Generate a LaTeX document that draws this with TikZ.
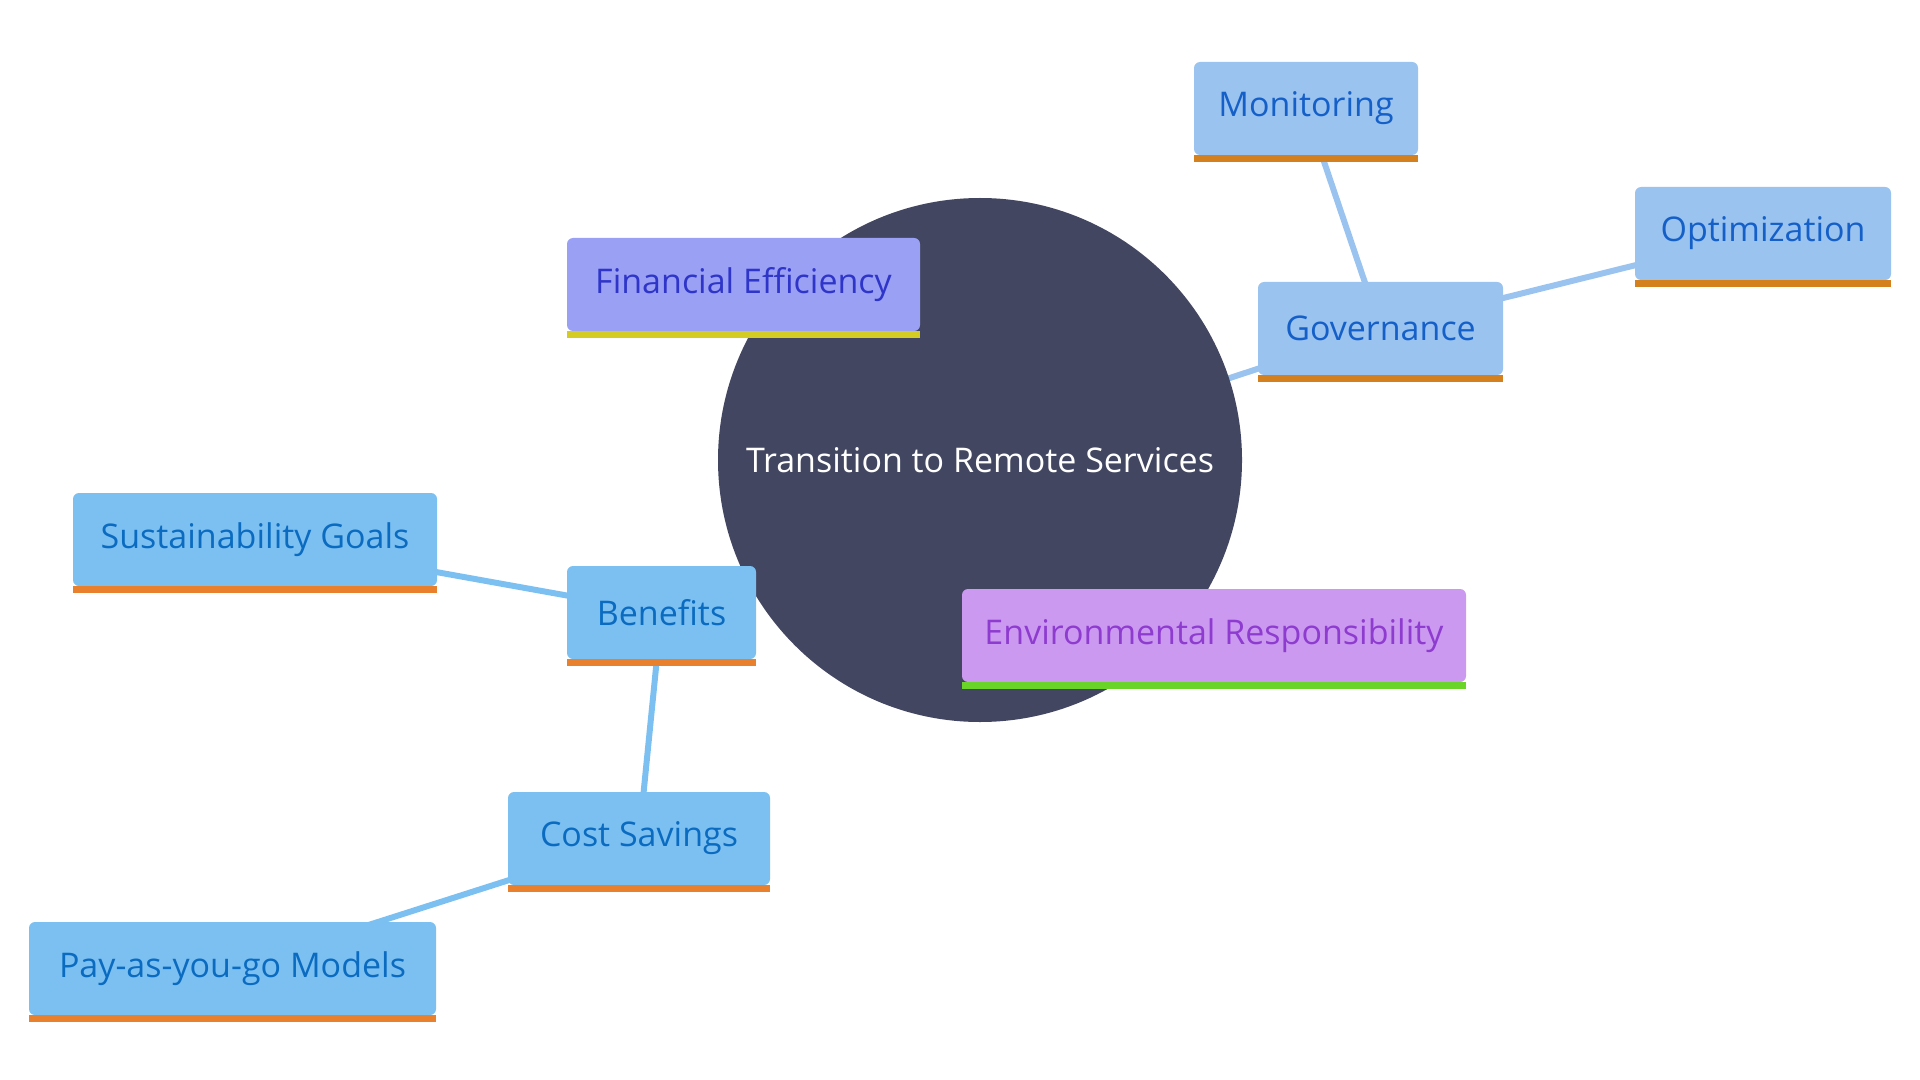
\documentclass[tikz,border=0pt]{standalone}
\usepackage{fontspec}
\setmainfont{Open Sans}
\usetikzlibrary{backgrounds}

\definecolor{rootfill}{HTML}{424660}
\definecolor{finfill}{HTML}{9AA0F4}
\definecolor{fintext}{HTML}{2E35C8}
\definecolor{finbar}{HTML}{D4CC22}
\definecolor{envfill}{HTML}{CC99F0}
\definecolor{envtext}{HTML}{8E3BCF}
\definecolor{envbar}{HTML}{6AD428}
\definecolor{govfill}{HTML}{9AC3EF}
\definecolor{govtext}{HTML}{1560C8}
\definecolor{govbar}{HTML}{D4801F}
\definecolor{benfill}{HTML}{7CC0F2}
\definecolor{bentext}{HTML}{0A6BC0}
\definecolor{benbar}{HTML}{E8802E}

\begin{document}
\begin{tikzpicture}[
    x=0.5pt, y=-0.5pt,
    box/.style={rounded corners=3pt, minimum height=46.5pt, inner xsep=0pt,
                font=\fontsize{17}{20}\selectfont},
    govbox/.style={box, fill=govfill, text=govtext},
    benbox/.style={box, fill=benfill, text=bentext},
    bar/.style={fill=#1},
    link/.style={line width=3pt, draw=#1}
  ]
  \useasboundingbox (0,0) rectangle (1920,1080);

  \node[circle, fill=rootfill, minimum size=262pt, text=white,
        font=\fontsize{17}{20}\selectfont] (root) at (980,460)
        {Transition to Remote Services};

  \node[box, fill=finfill, text=fintext, minimum width=176.5pt] (fin) at (743.5,284.5) {Financial Efficiency};
  \node[box, fill=envfill, text=envtext, minimum width=252pt] (env) at (1214,635.5) {Environmental Responsibility};

  \node[govbox, minimum width=122.5pt] (gov) at (1380.5,328.5) {Governance};
  \node[govbox, minimum width=112pt] (mon) at (1306,108.5) {Monitoring};
  \node[govbox, minimum width=128pt] (opt) at (1763,233.5) {Optimization};

  \node[benbox, minimum width=94.5pt] (ben) at (661.5,612.5) {Benefits};
  \node[benbox, minimum width=182pt] (sus) at (255,539.5) {Sustainability Goals};
  \node[benbox, minimum width=131pt] (cost) at (639,838.5) {Cost Savings};
  \node[benbox, minimum width=203.5pt] (pay) at (232.5,968.5) {Pay-as-you-go Models};

  % coloured strips under the boxes
  \fill[bar=finbar] (fin.south west) rectangle ([yshift=-3.5pt]fin.south east);
  \fill[bar=envbar] (env.south west) rectangle ([yshift=-3.5pt]env.south east);
  \foreach \n in {gov, mon, opt}
    \fill[bar=govbar] (\n.south west) rectangle ([yshift=-3.5pt]\n.south east);
  \foreach \n in {ben, sus, cost, pay}
    \fill[bar=benbar] (\n.south west) rectangle ([yshift=-3.5pt]\n.south east);

  \begin{pgfonlayer}{background}
    \draw[link=finfill] (root.center) -- (fin.center);
    \draw[link=envfill] (root.center) -- (env.center);
    \draw[link=govfill] (root.center) -- (gov.center);
    \draw[link=govfill] (gov.center) -- (mon.center);
    \draw[link=govfill] (gov.center) -- (opt.center);
    \draw[link=benfill] (root.center) -- (ben.center);
    \draw[link=benfill] (ben.center) -- (sus.center);
    \draw[link=benfill] (ben.center) -- (cost.center);
    \draw[link=benfill] (cost.center) -- (pay.center);
  \end{pgfonlayer}
\end{tikzpicture}
\end{document}
